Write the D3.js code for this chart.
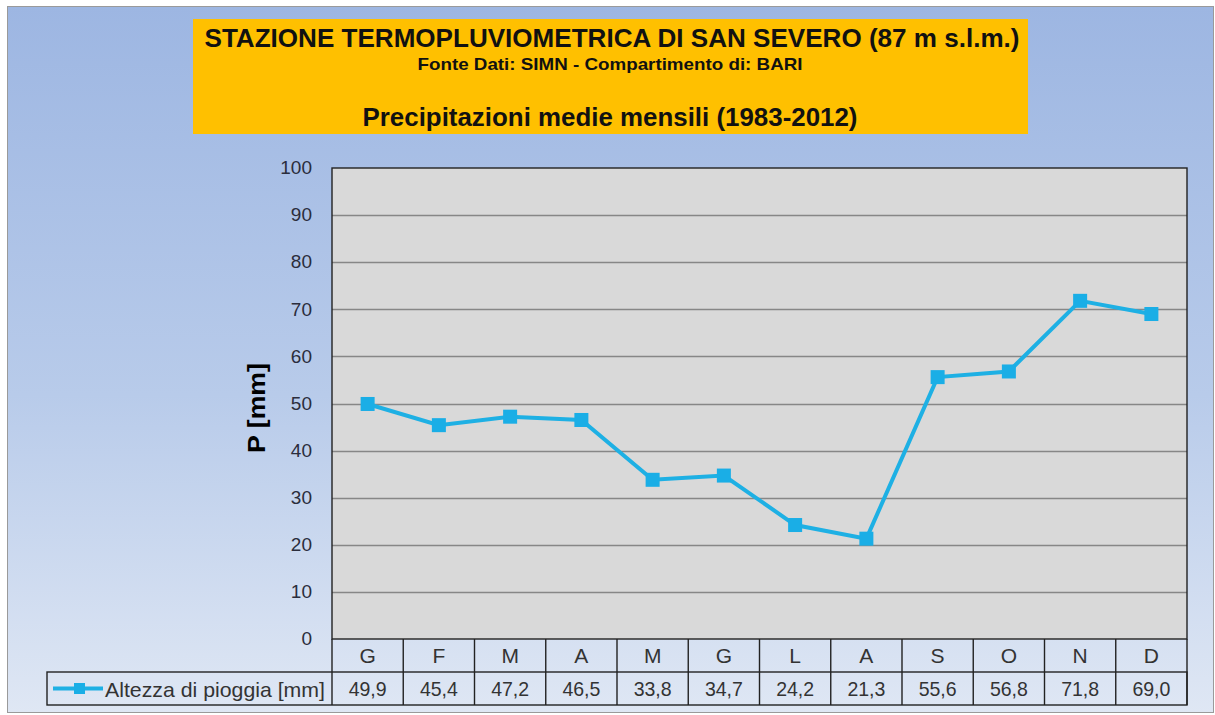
<!DOCTYPE html>
<html>
<head>
<meta charset="utf-8">
<script src="https://cdnjs.cloudflare.com/ajax/libs/d3/7.8.5/d3.min.js"></script>
<style>
  body { margin: 0; background: #fff; }
  text { font-family: "Liberation Sans", Arial, sans-serif; }
</style>
</head>
<body>
<svg id="chart" width="1215" height="715"></svg>
<script>
// data
var months = ["G", "F", "M", "A", "M", "G", "L", "A", "S", "O", "N", "D"];
var rain = [49.9, 45.4, 47.2, 46.5, 33.8, 34.7, 24.2, 21.3, 55.6, 56.8, 71.8, 69.0];
var yTicks = [0, 10, 20, 30, 40, 50, 60, 70, 80, 90, 100];
var seriesName = "Altezza di pioggia  [mm]";

var svg = d3.select("#chart");

// background gradient
var defs = svg.append("defs");
var grad = defs.append("linearGradient").attr("id", "bg").attr("x1", 0).attr("y1", 0).attr("x2", 0).attr("y2", 1);
grad.append("stop").attr("offset", "0%").attr("stop-color", "#9db6e2");
grad.append("stop").attr("offset", "55%").attr("stop-color", "#b8cbea");
grad.append("stop").attr("offset", "100%").attr("stop-color", "#dfe7f4");

svg.append("rect").attr("x", 7.5).attr("y", 6.5).attr("width", 1206).attr("height", 706)
  .attr("fill", "url(#bg)").attr("stroke", "#9a9a9a").attr("stroke-width", 1);

// title box
svg.append("rect").attr("x", 193).attr("y", 19).attr("width", 835).attr("height", 115).attr("fill", "#ffc000");
svg.append("text").attr("x", 612).attr("y", 47).attr("text-anchor", "middle")
  .style("font-size", "25px").style("font-weight", "bold").attr("fill", "#111")
  .attr("textLength", 815).attr("lengthAdjust", "spacingAndGlyphs")
  .text("STAZIONE TERMOPLUVIOMETRICA DI SAN SEVERO (87 m s.l.m.)");
svg.append("text").attr("x", 610).attr("y", 70).attr("text-anchor", "middle")
  .style("font-size", "17px").style("font-weight", "bold").attr("fill", "#111")
  .attr("textLength", 385).attr("lengthAdjust", "spacingAndGlyphs")
  .text("Fonte Dati: SIMN - Compartimento  di: BARI");
svg.append("text").attr("x", 610).attr("y", 126).attr("text-anchor", "middle")
  .style("font-size", "25px").style("font-weight", "bold").attr("fill", "#111")
  .attr("textLength", 495).attr("lengthAdjust", "spacingAndGlyphs")
  .text("Precipitazioni medie mensili (1983-2012)");

// plot area
var pLeft = 332, pRight = 1187, pTop = 168, pBottom = 639;
var x = d3.scaleBand().domain(d3.range(months.length)).range([pLeft, pRight]);
var y = d3.scaleLinear().domain([0, 100]).range([pBottom, pTop]);

svg.append("rect").attr("x", pLeft).attr("y", pTop).attr("width", pRight - pLeft).attr("height", pBottom - pTop)
  .attr("fill", "#d9d9d9");

svg.append("g").selectAll("line").data(yTicks.filter(function(d){ return d > 0 && d < 100; }))
  .enter().append("line")
  .attr("x1", pLeft).attr("x2", pRight)
  .attr("y1", function(d){ return Math.round(y(d)) + 0.5; })
  .attr("y2", function(d){ return Math.round(y(d)) + 0.5; })
  .attr("stroke", "#878787").attr("stroke-width", 1.4);

svg.append("rect").attr("x", pLeft).attr("y", pTop).attr("width", pRight - pLeft).attr("height", pBottom - pTop)
  .attr("fill", "none").attr("stroke", "#222").attr("stroke-width", 1.4);

// y axis
var yAxis = d3.axisLeft(y).tickValues(yTicks).tickSize(0).tickPadding(20);
var ya = svg.append("g").attr("transform", "translate(" + pLeft + ",0)").call(yAxis);
ya.select(".domain").remove();
ya.selectAll("text").style("font-size", "19px").style("font-family", "'Liberation Sans', Arial, sans-serif")
  .attr("fill", "#2b2d3c").attr("dy", "0.3em");

svg.append("text").attr("transform", "translate(265,408) rotate(-90)").attr("text-anchor", "middle")
  .style("font-size", "24px").style("font-weight", "bold").attr("fill", "#000")
  .attr("textLength", 90).attr("lengthAdjust", "spacingAndGlyphs").text("P [mm]");

// line + markers
var line = d3.line().x(function(d, i){ return x(i) + x.bandwidth() / 2; }).y(function(d){ return y(d); });
svg.append("path").datum(rain).attr("d", line).attr("fill", "none")
  .attr("stroke", "#1eb0e4").attr("stroke-width", 4);
svg.append("g").selectAll("rect").data(rain).enter().append("rect")
  .attr("x", function(d, i){ return x(i) + x.bandwidth() / 2 - 7; })
  .attr("y", function(d){ return y(d) - 7; })
  .attr("width", 14).attr("height", 14).attr("fill", "#1aaee6");

// data table
var rowH = 33, tableTop = pBottom, legLeft = 47;
var tbl = svg.append("g").attr("stroke", "#222").attr("stroke-width", 1.4);
tbl.append("rect").attr("x", legLeft).attr("y", tableTop + rowH).attr("width", pRight - legLeft).attr("height", rowH)
  .attr("fill", "none");
tbl.append("line").attr("x1", pRight).attr("x2", pRight).attr("y1", tableTop).attr("y2", tableTop + 2 * rowH);
tbl.selectAll("line.col").data(d3.range(months.length)).enter().append("line").attr("class", "col")
  .attr("x1", function(i){ return x(i); }).attr("x2", function(i){ return x(i); })
  .attr("y1", tableTop).attr("y2", tableTop + 2 * rowH);

svg.append("g").selectAll("text").data(months).enter().append("text")
  .attr("x", function(d, i){ return x(i) + x.bandwidth() / 2; })
  .attr("y", tableTop + 24).attr("text-anchor", "middle")
  .style("font-size", "21px").attr("fill", "#333").text(function(d){ return d; });
svg.append("g").selectAll("text").data(rain).enter().append("text")
  .attr("x", function(d, i){ return x(i) + x.bandwidth() / 2; })
  .attr("y", tableTop + rowH + 24).attr("text-anchor", "middle")
  .style("font-size", "21px").attr("fill", "#333")
  .attr("textLength", 38).attr("lengthAdjust", "spacingAndGlyphs")
  .text(function(d){ return d.toFixed(1).replace(".", ","); });

// legend key
var ly = tableTop + rowH + rowH / 2;
svg.append("line").attr("x1", 53).attr("x2", 103).attr("y1", ly).attr("y2", ly)
  .attr("stroke", "#1eb0e4").attr("stroke-width", 4);
svg.append("rect").attr("x", 74).attr("y", ly - 5.5).attr("width", 11).attr("height", 11).attr("fill", "#1aaee6");
svg.append("text").attr("x", 105).attr("y", ly + 8).style("font-size", "21px")
  .attr("fill", "#333").attr("textLength", 220).attr("lengthAdjust", "spacingAndGlyphs").text(seriesName);
</script>
</body>
</html>
